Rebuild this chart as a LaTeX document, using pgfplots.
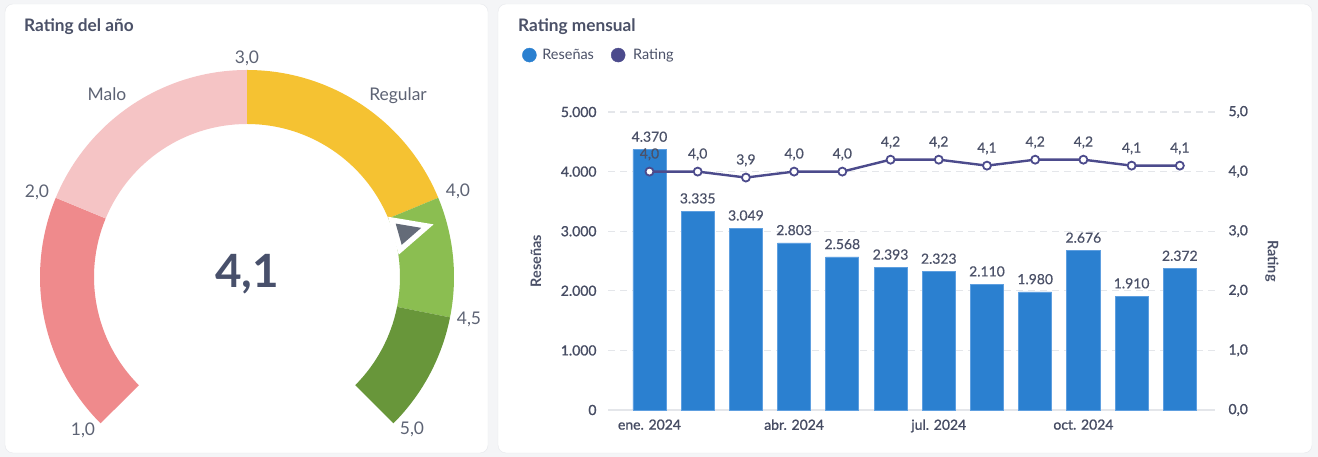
\documentclass[border=0pt]{standalone}
\usepackage{pgfplots}
\usepackage{pgfplotstable}
\pgfplotsset{compat=1.18}
\usepackage{fontspec}
\setmainfont{Lato}
\newfontfamily\latomid[FakeBold=1.1]{Lato}
\newfontfamily\latolight[FakeBold=0.4]{Lato}
\definecolor{bg}{HTML}{F4F5F7}
\definecolor{cardline}{HTML}{E6E8EC}
\definecolor{txt}{HTML}{4B5168}
\definecolor{tick}{HTML}{464C63}
\definecolor{lbl}{HTML}{5D6374}
\definecolor{big}{HTML}{48506B}
\definecolor{barc}{HTML}{2B80D0}
\definecolor{barline}{HTML}{5E9FE0}
\definecolor{ratc}{HTML}{4C4B8C}
\definecolor{gridc}{HTML}{E4E6EA}
\definecolor{g1}{HTML}{EF8A8C}
\definecolor{g2}{HTML}{F5C4C5}
\definecolor{g3}{HTML}{F5C232}
\definecolor{g4}{HTML}{8BBE51}
\definecolor{g5}{HTML}{68963A}
\definecolor{needle}{HTML}{646B78}

\pgfplotsset{every axis/.append style={/pgf/number format/assume math mode=true}}

\pgfplotstableread{
m  n     r
0  4370  4.0
1  3335  4.0
2  3049  3.9
3  2803  4.0
4  2568  4.0
5  2393  4.2
6  2323  4.2
7  2110  4.1
8  1980  4.2
9  2676  4.2
10 1910  4.1
11 2372  4.1
}\monthly

% gauge: value v -> angle 225-67.5*(v-1); outer radius 207, inner 153
\newcommand\gseg[3]{%
  \fill[#3] (axis cs:{207*cos(225-67.5*(#1-1))},{207*sin(225-67.5*(#1-1))})
    arc[start angle={225-67.5*(#1-1)}, end angle={225-67.5*(#2-1)}, radius=207bp]
    -- (axis cs:{153*cos(225-67.5*(#2-1))},{153*sin(225-67.5*(#2-1))})
    arc[start angle={225-67.5*(#2-1)}, end angle={225-67.5*(#1-1)}, radius=153bp] -- cycle;}
\newcommand\gneedle[1]{%
  \draw[white, line width=11bp, line join=miter, miter limit=10]
    (axis cs:{181*cos(225-67.5*(#1-1))},{181*sin(225-67.5*(#1-1))})
    -- (axis cs:{158*cos(229-67.5*(#1-1))},{158*sin(229-67.5*(#1-1))})
    -- (axis cs:{158*cos(221-67.5*(#1-1))},{158*sin(221-67.5*(#1-1))}) -- cycle;
  \fill[needle]
    (axis cs:{181*cos(225-67.5*(#1-1))},{181*sin(225-67.5*(#1-1))})
    -- (axis cs:{158*cos(229-67.5*(#1-1))},{158*sin(229-67.5*(#1-1))})
    -- (axis cs:{158*cos(221-67.5*(#1-1))},{158*sin(221-67.5*(#1-1))}) -- cycle;}

\begin{document}
\begin{tikzpicture}[x=1bp,y=1bp]
\path[use as bounding box] (0,0) rectangle (1318,457);
\fill[bg] (0,0) rectangle (1318,457);
\filldraw[fill=white, draw=cardline, rounded corners=8bp] (5,4) rectangle (488,453);
\filldraw[fill=white, draw=cardline, rounded corners=8bp] (498,4) rectangle (1312,453);

\node[anchor=west, inner sep=0, font=\bfseries\fontsize{17.3}{20}\selectfont, text=txt] at (24,430) {Rating del año};
\node[anchor=west, inner sep=0, font=\bfseries\fontsize{17.3}{20}\selectfont, text=txt] at (518,430) {Rating mensual};

% ---------- gauge ----------
\begin{axis}[at={(7bp,5bp)}, anchor=south west, x=1bp, y=1bp,
  xmin=-240, xmax=240, ymin=-175, ymax=270, hide axis, clip=false]
\gseg{1}{2}{g1}
\gseg{2}{3}{g2}
\gseg{3}{4}{g3}
\gseg{4}{4.5}{g4}
\gseg{4.5}{5}{g5}
\gneedle{4.1}
\begin{scope}[every node/.style={font=\fontsize{17.5}{20}\selectfont, text=lbl, inner sep=0}]
\node at (axis cs:0,219) {3,0};
\node at (axis cs:-210,85) {2,0};
\node at (axis cs:-164,-153) {1,0};
\node at (axis cs:211,86) {4,0};
\node at (axis cs:222,-42) {4,5};
\node at (axis cs:165,-152) {5,0};
\node at (axis cs:-140,183) {Malo};
\node at (axis cs:151,181) {Regular};
\end{scope}
\node[font=\bfseries\fontsize{46}{50}\selectfont, text=big, inner sep=0] at (axis cs:0,3) {4,1};
\end{axis}

% ---------- bars: Reseñas ----------
\begin{axis}[at={(608bp,47bp)}, anchor=south west, scale only axis,
  width=607bp, height=298bp,
  xmin=-0.86, xmax=11.73, ymin=0, ymax=5000,
  axis x line*=bottom, axis y line*=left,
  x axis line style={draw=gridc, line width=1.2bp, -},
  y axis line style={draw=none},
  major tick length=0pt,
  xtick={0,3,6,9}, xticklabels={ene. 2024, abr. 2024, jul. 2024, oct. 2024},
  ytick={0,1000,2000,3000,4000,5000},
  scaled y ticks=false,
  tick label style={font=\latomid\fontsize{14}{16}\selectfont, text=tick},
  yticklabel style={xshift=-8bp, /pgf/number format/.cd, fixed, precision=0, 1000 sep={.}},
  xticklabel style={yshift=-6bp},
  ymajorgrids,
  grid style={gridc, dash pattern=on 7bp off 5bp, line width=1.2bp},
  ylabel={Reseñas},
  ylabel style={at={(axis description cs:-0.1186,0.5)}, anchor=center,
    font=\bfseries\fontsize{14.5}{16}\selectfont, text=txt},
  clip=false,
]
\addplot[ybar, bar width=0.685, fill=barc, draw=barline, line width=0.8bp,
  nodes near coords={\pgfmathprintnumber[fixed,precision=0,1000 sep={.}]{\pgfplotspointmeta}},
  every node near coord/.append style={font=\latolight\fontsize{14}{16}\selectfont, text=txt, anchor=south, yshift=4bp}]
  table[x=m, y=n] {\monthly};
\end{axis}

% ---------- line: Rating ----------
\begin{axis}[at={(608bp,47bp)}, anchor=south west, scale only axis,
  width=607bp, height=298bp,
  xmin=-0.86, xmax=11.73, ymin=0, ymax=5,
  axis x line=none, axis y line*=right,
  y axis line style={draw=none},
  major tick length=0pt, xtick=\empty,
  ytick={0,1,2,3,4,5},
  tick label style={font=\latomid\fontsize{14}{16}\selectfont, text=tick},
  yticklabel style={xshift=10bp, /pgf/number format/.cd, fixed, fixed zerofill, precision=1, use comma},
  ylabel={Rating},
  ylabel style={at={(axis description cs:1.0939,0.5)}, anchor=center, rotate=180,
    font=\bfseries\fontsize{14.5}{16}\selectfont, text=txt},
  clip=false,
  legend columns=2,
  legend style={at={(axis description cs:-0.1417,1.191)}, anchor=west, draw=none, fill=none,
    inner sep=0pt, font=\fontsize{14.5}{17}\selectfont, text=txt,
    /tikz/every even column/.append style={column sep=15bp}},
]
\addlegendimage{legend image code/.code={\fill[barc] (7bp,0bp) circle[radius=7bp]; \path[draw=none,fill=none] (0bp,0bp) -- (18bp,0bp);}}
\addlegendentry{Reseñas}
\addlegendimage{legend image code/.code={\fill[ratc] (7bp,0bp) circle[radius=7bp]; \path[draw=none,fill=none] (0bp,0bp) -- (20bp,0bp);}}
\addlegendentry{Rating}
\addplot[ratc, line width=2.4bp, mark=*, mark size=4bp,
  mark options={fill=white, draw=ratc, line width=1.8bp},
  nodes near coords={\pgfmathprintnumber[fixed,fixed zerofill,precision=1,use comma]{\pgfplotspointmeta}},
  every node near coord/.append style={font=\latolight\fontsize{14}{16}\selectfont, text=txt, anchor=south, yshift=7bp},
  forget plot]
  table[x=m, y=r] {\monthly};
\end{axis}
\end{tikzpicture}
\end{document}
